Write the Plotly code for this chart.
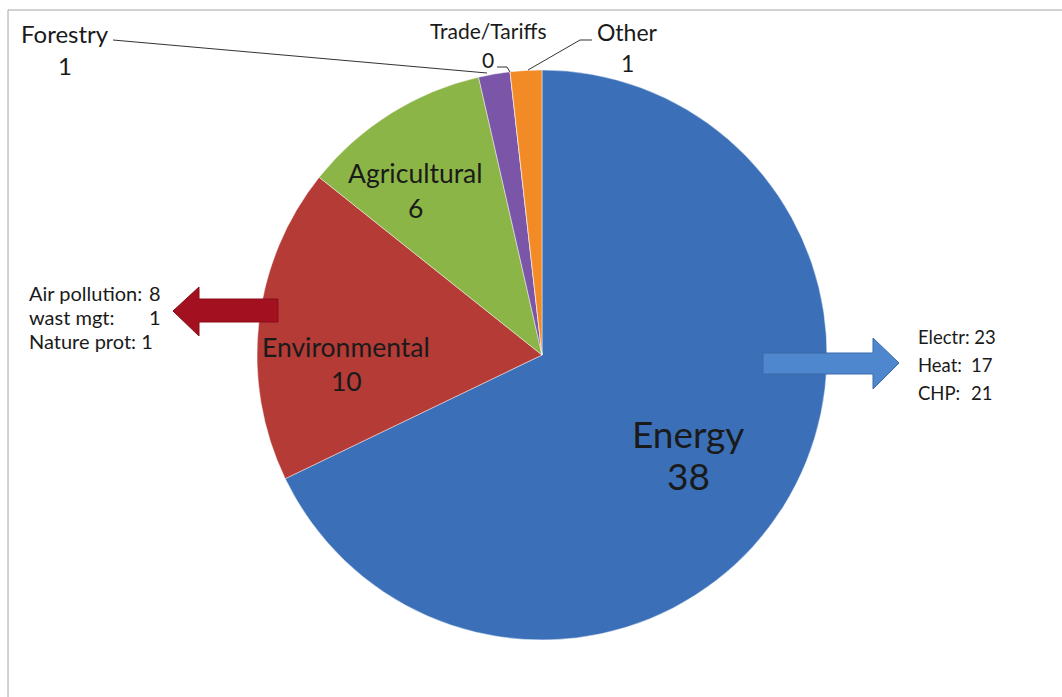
import plotly.graph_objects as go

W, H = 1062, 697

# Policy areas, clockwise from 12 o'clock
categories = ["Energy", "Environmental", "Agricultural", "Forestry", "Trade/Tariffs", "Other"]
counts = [38, 10, 6, 1, 0, 1]
colors = ["#3b70b8", "#b43b36", "#8cb547", "#7a55a8", "#f28a26", "#f28a26"]

# Breakdown of the two largest areas
energy_parts = ["Electr:", "Heat:", "CHP:"]
energy_counts = [23, 17, 21]
env_parts = ["Air pollution:", "wast mgt:", "Nature prot:"]
env_counts = [8, 1, 1]

FONT = "Lato, 'Open Sans', sans-serif"
INK = "#1a1a1a"

# pie geometry in pixels
CX, CY, R = 542, 355, 285


def px(x):
    return x / W


def py(y):
    return 1 - y / H


fig = go.Figure()
fig.add_trace(go.Pie(
    labels=categories,
    values=counts,
    sort=False,
    direction="clockwise",
    rotation=0,
    marker=dict(colors=colors, line=dict(color="rgba(255,255,255,0.45)", width=1)),
    textinfo="none",
    hoverinfo="label+value",
    showlegend=False,
    domain=dict(x=[px(CX - R), px(CX + R)], y=[py(CY + R), py(CY - R)]),
))

annotations = []


def label(x, y, text, size, xanchor="center"):
    annotations.append(dict(
        x=px(x), y=py(y), xref="paper", yref="paper", text=text, showarrow=False,
        font=dict(family=FONT, size=size, color=INK), align="left",
        xanchor=xanchor, yanchor="middle",
    ))


vals = dict(zip(categories, counts))
# slice labels: (name x, name y, value y, font size)
label_pos = {
    "Energy": (688, 433, 475, 37),
    "Environmental": (346, 347, 381, 26.5),
    "Agricultural": (415, 173, 208, 26.5),
    "Forestry": (65, 33, 65, 24),
    "Trade/Tariffs": (488, 30, 59, 21),
    "Other": (627, 32, 63, 23),
}
for name, (x, y1, y2, size) in label_pos.items():
    label(x, y1, name, size)
    label(x, y2, str(vals[name]), size)

# side breakdown tables
env_rows = [293, 317, 341]
for name, v, y in zip(env_parts, env_counts, env_rows):
    if name == "Nature prot:":
        label(27, y, f"{name} {v}", 20, xanchor="left")
    else:
        label(27, y, name, 20, xanchor="left")
        label(163, y, str(v), 20, xanchor="right")

energy_rows = [337, 365, 393]
for name, v, y in zip(energy_parts, energy_counts, energy_rows):
    if name == "Electr:":
        label(916, y, f"{name} {v}", 18.5, xanchor="left")
    else:
        label(916, y, name, 18.5, xanchor="left")
        label(969, y, str(v), 18.5, xanchor="left")

shapes = []


def line(pts, color="#333333", width=1):
    path = "M " + " L ".join(f"{px(x)},{py(y)}" for x, y in pts)
    shapes.append(dict(type="path", path=path, xref="paper", yref="paper",
                       line=dict(color=color, width=width)))


def poly(pts, fill, edge, width=1):
    path = "M " + " L ".join(f"{px(x)},{py(y)}" for x, y in pts) + " Z"
    shapes.append(dict(type="path", path=path, xref="paper", yref="paper",
                       fillcolor=fill, line=dict(color=edge, width=width)))


# frame
shapes.append(dict(type="rect", xref="paper", yref="paper",
                   x0=px(8), x1=px(1075), y0=py(710), y1=py(10),
                   line=dict(color="#a6a6a6", width=1), fillcolor="rgba(0,0,0,0)", layer="below"))

# leader lines
line([(113, 40), (487, 73)])
line([(497, 67), (507, 67), (510, 72)])
line([(592, 40), (580, 40), (528, 70)])

# block arrows
poly([(763, 353), (873, 353), (873, 338), (899, 363), (873, 389), (873, 374), (763, 374)],
     "#4f87cf", "#3b6aa8")
poly([(278, 299), (199, 299), (199, 287), (173, 311), (199, 336), (199, 322), (278, 322)],
     "#a3101f", "#8a0c18")

fig.update_layout(
    width=W, height=H,
    margin=dict(l=0, r=0, t=0, b=0),
    paper_bgcolor="white", plot_bgcolor="white",
    annotations=annotations, shapes=shapes,
)

fig.write_html("out.html")
